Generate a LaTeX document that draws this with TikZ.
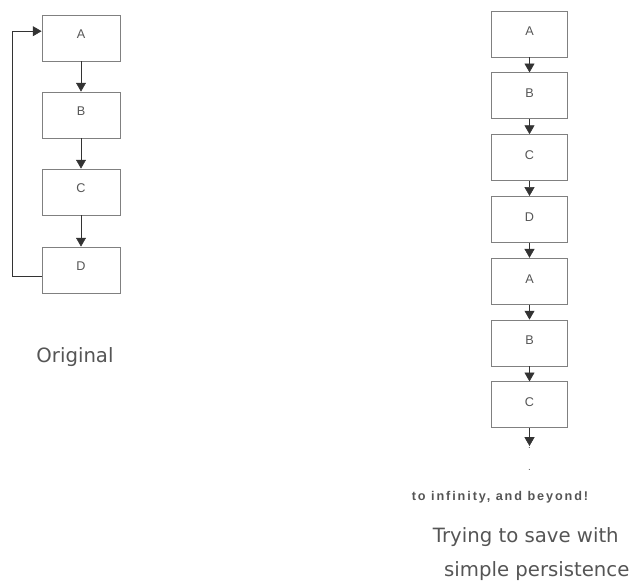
\documentclass[tikz,border=0pt]{standalone}
\usepackage{fontspec}
\setmainfont{Liberation Sans}
\newfontfamily\capfont{DejaVu Sans}
\usetikzlibrary{arrows.meta}
\definecolor{boxgray}{RGB}{128,128,128}
\definecolor{txtgray}{RGB}{85,85,85}
\begin{document}
\begin{tikzpicture}[
  x=0.025cm, y=-0.025cm,
  every node/.style={font=\fontsize{9}{11}\selectfont, text=txtgray},
  blk/.style={draw=boxgray, semithick, minimum width=1.95cm, minimum height=1.15cm, inner sep=0pt, text depth=0.2cm},
  flow/.style={-{Triangle[length=0.22cm,width=0.25cm]}, black!80},
  caption/.style={font=\capfont\fontsize{14}{24}\selectfont, text=txtgray}
]
\useasboundingbox (0,0) rectangle (638,582);
% original cycle
\node[blk] (A) at (81,38) {A};
\node[blk] (B) at (81,115) {B};
\node[blk] (C) at (81,192) {C};
\node[blk] (D) at (81,270) {D};
\draw[flow] (A) -- (B);
\draw[flow] (B) -- (C);
\draw[flow] (C) -- (D);
\draw[flow] ([yshift=-0.15cm]D.west) -- ++(-29,0) |- ([yshift=0.17cm]A.west);
\node[caption] (orig) at (75,357) {Original};
% unrolled copy
\foreach \i/\l in {0/A,1/B,2/C,3/D,4/A,5/B,6/C}{
  \node[blk, minimum width=1.88cm, text depth=0.12cm] (r\i) at (529.5,34+61.8*\i) {\l};
}
\foreach \i [count=\j] in {0,...,5}{
  \draw[flow] (r\i) -- (r\j);
}
\coordinate (rend) at (529.5,446);
\draw[flow] (r6) -- (rend);
\node[font=\scriptsize] (dot1) at (529.5,448) {.};
\node[font=\scriptsize] (dot2) at (529.5,470) {.};
\node[font=\fontsize{9}{11}\selectfont\bfseries\addfontfeature{LetterSpace=15}] (beyond) at (500,497) {to infinity, and beyond!};
\node[caption, align=left, anchor=west] (save) at (428,554) {Trying to save with\\\hspace*{8pt}simple persistence};
\end{tikzpicture}
\end{document}
